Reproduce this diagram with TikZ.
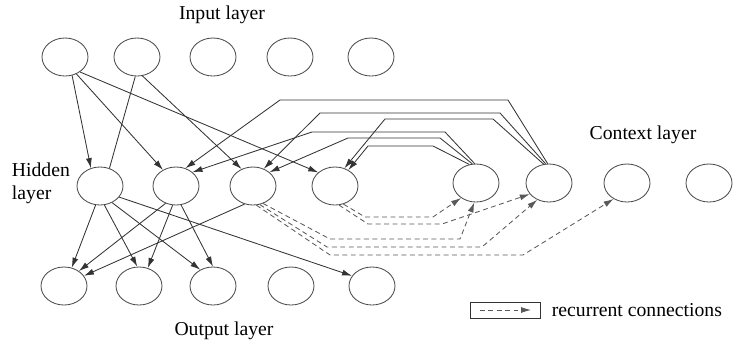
\documentclass[tikz,border=0pt]{standalone}
\usepackage{fontspec}
\setmainfont{Liberation Serif}
\usetikzlibrary{positioning, shapes.geometric, arrows.meta}

\begin{document}
\begin{tikzpicture}[
        x=0.025cm, y=-0.025cm,
        font=\fontsize{14}{16.5}\selectfont,
        unit/.style={ellipse, draw=black!70, line width=0.6pt, minimum width=1.15cm, minimum height=0.95cm, inner sep=0pt},
        conn/.style={-{Latex[length=2.5mm,width=1.5mm]}, draw=black!80, line width=0.6pt},
        recur/.style={conn, draw=black!65, dash pattern=on 3.5pt off 2.5pt}
    ]
        \useasboundingbox (0,0) rectangle (733,343);

        % Input layer
        \node (inlbl) at (222,15) {Input layer};
        \node[unit] (I1) at (65,57) {};
        \node[unit] (I2) at (137,57) {};
        \node[unit] (I3) at (213,57) {};
        \node[unit] (I4) at (290,57) {};
        \node[unit] (I5) at (371,57) {};

        % Hidden layer
        \node[align=left, anchor=west] (hidlbl) at (7,183) {Hidden\\layer};
        \node[unit] (H1) at (100,186) {};
        \node[unit] (H2) at (176,186) {};
        \node[unit] (H3) at (253,186) {};
        \node[unit] (H4) at (335,186) {};

        % Context layer
        \node (ctxlbl) at (643,135) {Context layer};
        \node[unit] (C1) at (476,183) {};
        \node[unit] (C2) at (549,183) {};
        \node[unit] (C3) at (627,183) {};
        \node[unit] (C4) at (709,183) {};

        % Output layer
        \node (outlbl) at (224,331) {Output layer};
        \node[unit] (O1) at (64,286) {};
        \node[unit] (O2) at (139,286) {};
        \node[unit] (O3) at (213,286) {};
        \node[unit] (O4) at (291,286) {};
        \node[unit] (O5) at (372,286) {};

        % Input -> hidden
        \draw[conn] (I1.-69) -- (H1.117);
        \draw[conn] (I1.-56) -- (H2.129);
        \draw[conn] (I1.-45) -- (H4.141);
        \draw[conn, -] (I2.-95) -- (H1.62);
        \draw[conn] (I2.-74) -- (H3.124);

        % Hidden -> output
        \draw[conn] (H1.-103) -- (O1.67);
        \draw[conn] (H1.-77) -- (O2.95);
        \draw[conn] (H1.-54) -- (O3.128);
        \draw[conn] (H1.-30) -- (O5.153);
        \draw[conn] (H2.-121) -- (O1.45);
        \draw[conn] (H2.-100) -- (O2.64);
        \draw[conn] (H2.-75) -- (O3.90);
        \draw[conn] (H3.-115) -- (O1.27);

        % Context -> hidden
        \draw[conn] (C2.94) -- (508,100) -- (280,100) -- (H2.62);
        \draw[conn] (C2.100) -- (500,113) -- (320,113) -- (H3.58);
        \draw[conn] (C2.106) -- (493,119) -- (385,119) -- (H4.62);
        \draw[conn] (C1.94) -- (445,132) -- (312,132) -- (H2.40);
        \draw[conn] (C1.101) -- (440,138) -- (348,138) -- (H3.40);
        \draw[conn] (C1.110) -- (433,146) -- (368,146) -- (H4.50);

        % Recurrent connections
        \draw[recur] (H4.-65) -- (365,217) -- (433,217) -- (C1.-135);
        \draw[recur] (H4.-78) -- (368,224) -- (442,224) -- (C2.-150);
        \draw[recur] (H3.-60) -- (330,239) -- (460,239) -- (C1.-95);
        \draw[recur] (H3.-70) -- (327,247) -- (482,247) -- (C2.-125);
        \draw[recur] (H3.-80) -- (330,255) -- (523,255) -- (C3.-130);

        % Legend
        \node[draw=black!80, line width=0.6pt, minimum width=1.75cm, minimum height=0.4cm, inner sep=0pt] (legend) at (505,310) {};
        \draw[recur] ([xshift=-0.63cm]legend.center) -- ([xshift=0.65cm]legend.center);
        \node[right=0.28cm of legend, inner sep=0pt] (legtxt) {recurrent connections};
    \end{tikzpicture}
\end{document}
